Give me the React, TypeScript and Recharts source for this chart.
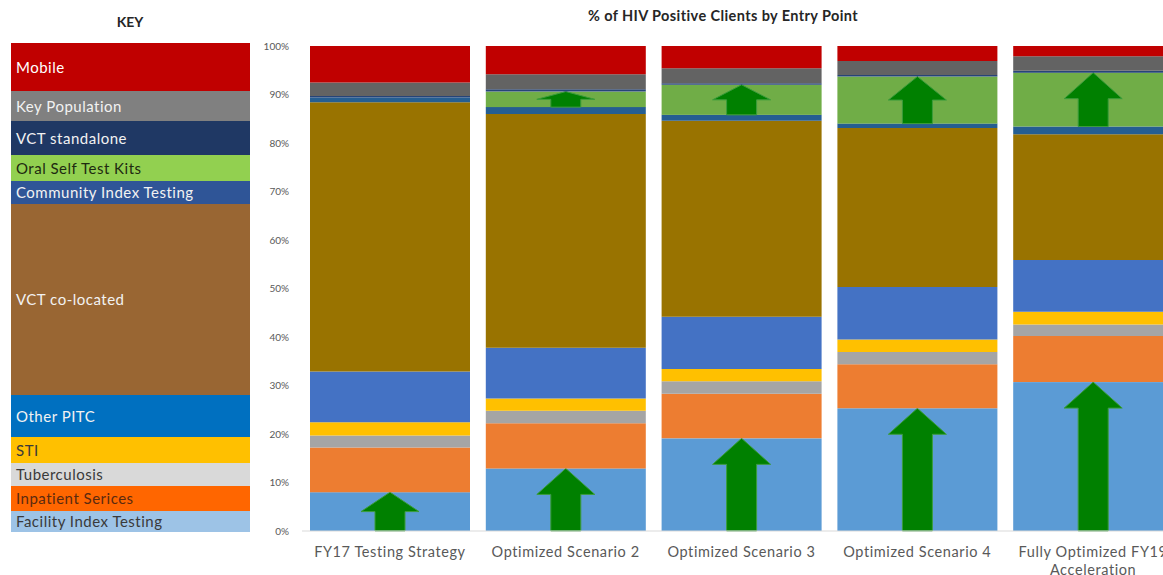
import { BarChart, Bar, XAxis, YAxis, Text } from 'recharts'

// Entry points, bottom of the stack first
const CATEGORIES = [
    'FY17 Testing Strategy',
    'Optimized Scenario 2',
    'Optimized Scenario 3',
    'Optimized Scenario 4',
    'Fully Optimized FY19 Acceleration'
]

const FACILITY_INDEX = [8.0, 12.9, 19.1, 25.3, 30.7]
const INPATIENT = [9.2, 9.3, 9.2, 9.1, 9.5]
const TUBERCULOSIS = [2.5, 2.6, 2.6, 2.5, 2.4]
const STI = [2.7, 2.5, 2.5, 2.6, 2.6]
const OTHER_PITC = [10.5, 10.5, 10.8, 10.8, 10.7]
const VCT_COLOCATED = [55.5, 48.2, 40.4, 32.8, 25.9]
const COMMUNITY_INDEX = [1.0, 1.4, 1.2, 0.9, 1.6]
const ORAL_SELF_TEST = [0, 3.2, 6.2, 9.7, 11.1]
const VCT_STANDALONE = [0.3, 0.5, 0.3, 0.3, 0.4]
const KEY_POPULATION = [2.8, 3.1, 3.1, 2.9, 3.0]
const MOBILE = [7.5, 5.8, 4.6, 3.1, 2.1]

const Y_TICKS = [0, 10, 20, 30, 40, 50, 60, 70, 80, 90, 100]

// Key entries, top to bottom
const KEY_LABELS = [
    'Mobile',
    'Key Population',
    'VCT standalone',
    'Oral Self Test Kits',
    'Community Index Testing',
    'VCT co-located',
    'Other PITC',
    'STI',
    'Tuberculosis',
    'Inpatient Serices',
    'Facility Index Testing'
]

const KEY_COLORS = ['#C00000', '#808080', '#1F3864', '#92D050', '#2F5597', '#996633', '#0070C0', '#FFC000', '#D9D9D9', '#FF6600', '#9DC3E6']
const KEY_TEXT = ['#ffffff', '#f2f2f2', '#f2f2f2', '#1e2a10', '#f2f2f2', '#f2f2f2', '#f2f2f2', '#3a3a3a', '#3a3a3a', '#5a2a10', '#3a3a3a']
const KEY_HEIGHTS = [48, 29.5, 34, 26, 23.5, 190.5, 42.5, 25.5, 23.5, 24.5, 21]

const FONT = 'Lato, "Open Sans", sans-serif'

const data = CATEGORIES.map((name, i) => ({
    name,
    facility: FACILITY_INDEX[i],
    inpatient: INPATIENT[i],
    tb: TUBERCULOSIS[i],
    sti: STI[i],
    pitc: OTHER_PITC[i],
    vctCo: VCT_COLOCATED[i],
    community: COMMUNITY_INDEX[i],
    oral: ORAL_SELF_TEST[i],
    vctSa: VCT_STANDALONE[i],
    keyPop: KEY_POPULATION[i],
    mobile: MOBILE[i]
}))

const SERIES = [
    { key: 'facility', color: '#5B9BD5', arrow: true },
    { key: 'inpatient', color: '#ED7D31' },
    { key: 'tb', color: '#A5A5A5' },
    { key: 'sti', color: '#FFC000' },
    { key: 'pitc', color: '#4472C4' },
    { key: 'vctCo', color: '#997300' },
    { key: 'community', color: '#255E91' },
    { key: 'oral', color: '#70AD47', arrow: true },
    { key: 'vctSa', color: '#264478' },
    { key: 'keyPop', color: '#636363' },
    { key: 'mobile', color: '#C00000' }
]

// Segment with an up arrow filling its height
function ArrowSegment(props: any) {
    const { x, y, width, height, fill } = props
    if (!height || height <= 0) return null
    const cx = x + width / 2
    const head = Math.min(26, height * 0.5)
    const bottom = y + height
    const pts = [
        [cx, y],
        [cx + 29, y + head],
        [cx + 15, y + head],
        [cx + 15, bottom],
        [cx - 15, bottom],
        [cx - 15, y + head],
        [cx - 29, y + head]
    ]
        .map((p) => p.join(','))
        .join(' ')
    return (
        <g>
            <rect x={x} y={y} width={width} height={height} fill={fill} />
            <polygon points={pts} fill="#008000" stroke="#3c9c3c" strokeWidth={1} />
        </g>
    )
}

function CategoryTick(props: any) {
    const { x, y, payload } = props
    return (
        <Text
            x={x}
            y={y + 8}
            width={172}
            textAnchor="middle"
            verticalAnchor="start"
            lineHeight="1.2em"
            fill="#595959"
            fontSize={14.5}
            fontFamily={FONT}
            style={{ letterSpacing: 0.6 }}
        >
            {payload.value}
        </Text>
    )
}

function Key() {
    return (
        <div style={{ position: 'absolute', left: 11, top: 43, width: 239 }}>
            {KEY_LABELS.map((label, i) => (
                <div
                    key={label}
                    style={{
                        height: KEY_HEIGHTS[i],
                        background: KEY_COLORS[i],
                        color: KEY_TEXT[i],
                        display: 'flex',
                        alignItems: 'center',
                        paddingLeft: 5,
                        fontSize: 15,
                        letterSpacing: 0.5,
                        fontFamily: FONT
                    }}
                >
                    {label}
                </div>
            ))}
        </div>
    )
}

export default function App() {
    return (
        <div
            style={{
                position: 'absolute',
                left: 0,
                top: 0,
                width: 1163,
                height: 575,
                overflow: 'hidden',
                background: '#fff',
                fontFamily: FONT
            }}
        >
            <div style={{ position: 'absolute', left: 80, top: 13, width: 100, textAlign: 'center', fontWeight: 700, fontSize: 14, color: '#262626' }}>
                KEY
            </div>
            <div
                style={{
                    position: 'absolute',
                    left: 473,
                    top: 7,
                    width: 500,
                    textAlign: 'center',
                    fontWeight: 700,
                    fontSize: 14.5,
                    letterSpacing: 0.4,
                    color: '#262626'
                }}
            >
                % of HIV Positive Clients by Entry Point
            </div>
            <Key />
            <div style={{ position: 'absolute', left: 0, top: 0 }}>
                <BarChart width={1200} height={575} data={data} margin={{ top: 46, right: 19, bottom: 4, left: 242 }} barSize={160}>
                    <XAxis
                        dataKey="name"
                        height={40}
                        interval={0}
                        tickLine={false}
                        axisLine={{ stroke: '#D9D9D9' }}
                        tick={<CategoryTick />}
                    />
                    <YAxis
                        width={60}
                        domain={[0, 100]}
                        ticks={Y_TICKS}
                        tickFormatter={(v) => `${v}%`}
                        axisLine={false}
                        tickLine={false}
                        tickMargin={7}
                        tick={{ fontSize: 10, fill: '#595959', fontFamily: FONT }}
                    />
                    {SERIES.map((s) => (
                        <Bar
                            key={s.key}
                            dataKey={s.key}
                            stackId="a"
                            fill={s.color}
                            isAnimationActive={false}
                            shape={s.arrow ? <ArrowSegment /> : undefined}
                        />
                    ))}
                </BarChart>
            </div>
        </div>
    )
}
